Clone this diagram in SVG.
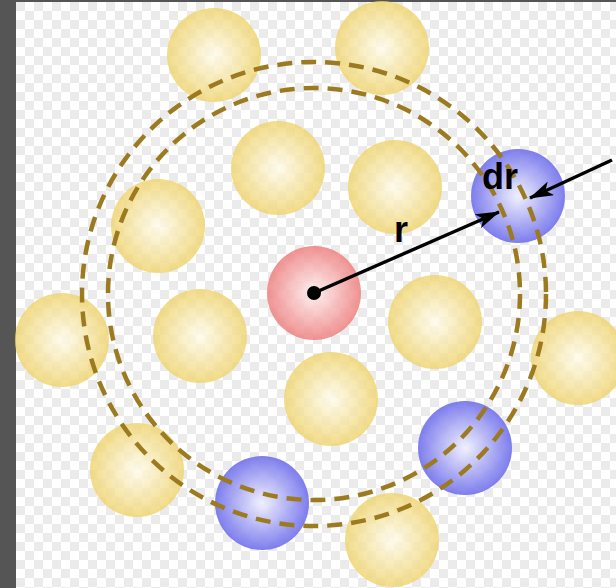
<svg xmlns="http://www.w3.org/2000/svg" width="616" height="588" viewBox="0 0 616 588">
<defs>
<pattern id="chk" x="16" y="2" width="18" height="18" patternUnits="userSpaceOnUse">
<rect width="18" height="18" fill="#ffffff"/>
<rect width="9" height="9" fill="#ebebeb"/>
<rect x="9" y="9" width="9" height="9" fill="#ebebeb"/>
</pattern>
<radialGradient id="gy"><stop offset="0" stop-color="#fffbea"/><stop offset="1" stop-color="#efd46e"/></radialGradient>
<radialGradient id="gr"><stop offset="0" stop-color="#fff0f0"/><stop offset="1" stop-color="#ee7f7f"/></radialGradient>
<radialGradient id="gb"><stop offset="0" stop-color="#f0f0ff"/><stop offset="1" stop-color="#7070ec"/></radialGradient>
<marker id="ah" viewBox="0 0 24 15" refX="23" refY="7.5" markerWidth="24" markerHeight="15" orient="auto" markerUnits="userSpaceOnUse">
<path d="M0,0 L24,7.5 L0,15 L6,7.5 z" fill="#000"/>
</marker>
<style>
.y{fill:url(#gy);opacity:0.82}
.r{fill:url(#gr);opacity:0.85}
.b{fill:url(#gb);opacity:0.9}
.d{fill:none;stroke:#9c7a20;stroke-width:4.5;stroke-dasharray:15 9}
.a{stroke:#000;stroke-width:3.4;fill:none}
.t{font-family:"Liberation Sans",Arial,sans-serif;font-weight:bold;font-size:36px;fill:#000}
</style>
</defs>
<rect width="616" height="588" fill="#555"/>
<rect x="16" y="2" width="600" height="586" fill="url(#chk)"/>
<g id="balls">
<circle id="y1" class="y" cx="214" cy="55" r="47"/>
<circle id="y2" class="y" cx="382" cy="48" r="47"/>
<circle id="y3" class="y" cx="278" cy="168" r="47"/>
<circle id="y4" class="y" cx="395" cy="187" r="47"/>
<circle id="y5" class="y" cx="158" cy="226" r="47"/>
<circle id="y6" class="y" cx="200" cy="336" r="47"/>
<circle id="y7" class="y" cx="62" cy="340" r="47"/>
<circle id="y8" class="y" cx="435" cy="322" r="47"/>
<circle id="y9" class="y" cx="331" cy="399" r="47"/>
<circle id="y10" class="y" cx="578" cy="358" r="47"/>
<circle id="y11" class="y" cx="137" cy="470" r="47"/>
<circle id="y12" class="y" cx="392" cy="540" r="47"/>
<circle id="red" class="r" cx="314" cy="293" r="47"/>
<circle id="b1" class="b" cx="518" cy="196" r="47"/>
<circle id="b2" class="b" cx="465" cy="448" r="47"/>
<circle id="b3" class="b" cx="262" cy="503" r="47"/>
</g>
<g id="connectors">
<circle class="d" cx="314" cy="294" r="206"/>
<circle class="d" cx="314" cy="294" r="232"/>
<circle cx="314" cy="293" r="7" fill="#000"/>
<line class="a" x1="314" y1="293" x2="499" y2="212" marker-end="url(#ah)"/>
<line class="a" x1="612" y1="160" x2="530" y2="198" marker-end="url(#ah)"/>
</g>
<text class="t" x="394" y="242">r</text>
<text class="t" x="482" y="189">dr</text>
</svg>
